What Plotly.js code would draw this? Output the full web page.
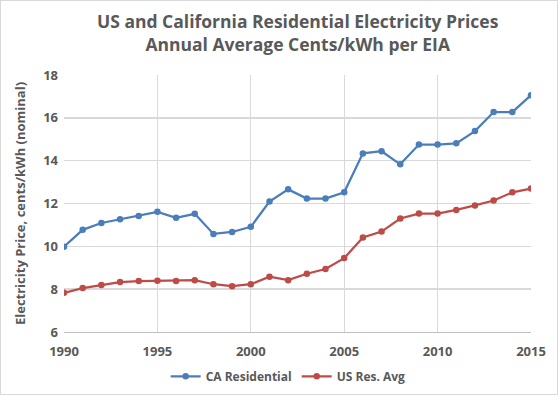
<!DOCTYPE html>
<html>
<head>
<meta charset="utf-8">
<script src="https://cdn.plot.ly/plotly-3.0.1.min.js"></script>
<style>
html,body{margin:0;padding:0;background:#fff;}
#chart{width:556px;height:393px;border:1px solid #d9d9d9;}
</style>
</head>
<body>
<div id="chart"></div>
<script>
const years = [1990,1991,1992,1993,1994,1995,1996,1997,1998,1999,2000,2001,2002,2003,2004,2005,2006,2007,2008,2009,2010,2011,2012,2013,2014,2015];
const caResidential = [9.98,10.77,11.09,11.27,11.42,11.61,11.33,11.52,10.58,10.67,10.91,12.09,12.66,12.23,12.23,12.52,14.34,14.44,13.83,14.75,14.75,14.81,15.38,16.27,16.27,17.06];
const usResAvg = [7.83,8.05,8.19,8.33,8.38,8.39,8.38,8.42,8.23,8.14,8.23,8.58,8.42,8.72,8.94,9.45,10.41,10.69,11.30,11.53,11.53,11.70,11.91,12.14,12.52,12.70];
const seriesNames = ['CA Residential','US Res. Avg'];
const titleText = 'US and California Residential Electricity Prices<br>Annual Average Cents/kWh per EIA';
const yTitle = 'Electricity Price, cents/kWh (nominal)';

const font = '"Open Sans", "Noto Sans", sans-serif';
const gray = '#595959';
const traces = [
  {x: years, y: caResidential, name: seriesNames[0], type: 'scatter', mode: 'lines+markers',
   line: {color: '#4A7EBB', width: 2.25}, marker: {color: '#4A7EBB', size: 6.5}},
  {x: years, y: usResAvg, name: seriesNames[1], type: 'scatter', mode: 'lines+markers',
   line: {color: '#BE4B48', width: 2.25}, marker: {color: '#BE4B48', size: 6.5}}
];
const layout = {
  width: 556, height: 393,
  margin: {l: 63, r: 26, t: 74, b: 62},
  paper_bgcolor: '#fff', plot_bgcolor: '#fff',
  font: {family: font, color: gray, size: 12},
  annotations: [{text: titleText, xref: 'paper', yref: 'paper', x: 0.5, y: 1.165,
                 xanchor: 'center', yanchor: 'middle', showarrow: false,
                 font: {family: font, size: 17.5, color: gray, weight: 'bold'}}],
  xaxis: {range: [1990, 2015], dtick: 5, tick0: 1990, showgrid: true, gridcolor: '#d9d9d9', gridwidth: 1,
          zeroline: false, showline: true, linecolor: '#bfbfbf', ticks: '', ticklabelstandoff: 7,
          tickfont: {family: font, size: 13, color: gray, weight: 'bold'}},
  yaxis: {range: [6, 18], dtick: 2, showgrid: true, gridcolor: '#d9d9d9', gridwidth: 1.5, zeroline: false,
          showline: false, ticks: '', ticklabelstandoff: 5,
          tickfont: {family: font, size: 13, color: gray, weight: 'bold'},
          title: {text: yTitle, font: {family: font, size: 13, color: gray, weight: 'bold'}, standoff: 14}},
  legend: {orientation: 'h', x: 0.48, xanchor: 'center', xref: 'paper', yref: 'container', y: 0.045, yanchor: 'middle',
           itemwidth: 30, font: {family: font, size: 12, color: gray, weight: 'bold'}},
  showlegend: true
};
Plotly.newPlot('chart', traces, layout, {displayModeBar: false, staticPlot: true});
</script>
</body>
</html>
